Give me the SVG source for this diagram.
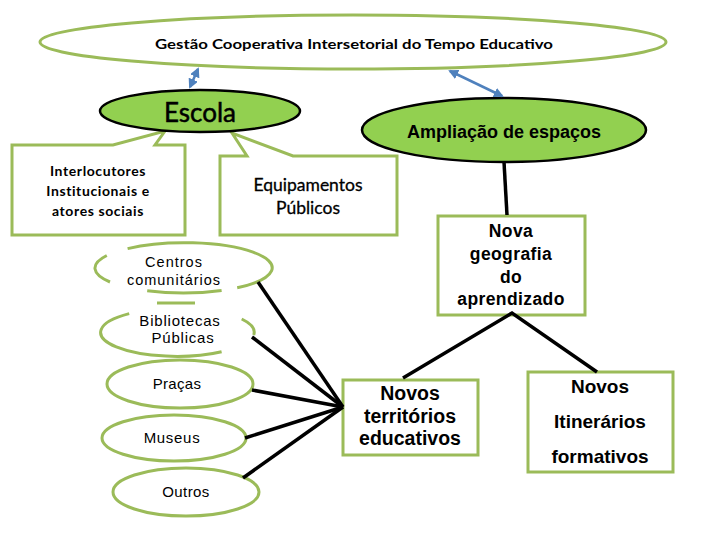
<svg xmlns="http://www.w3.org/2000/svg" width="720" height="540" viewBox="0 0 720 540">
<defs>
<marker id="ah" viewBox="0 0 10 10" refX="8" refY="5" markerWidth="4" markerHeight="4" orient="auto-start-reverse">
<path d="M0,0 L10,5 L0,10 z" fill="#4f81bd"/>
</marker>
<style>
.ol{fill:#fff;stroke:#9bbb59;stroke-width:3}
.olo{fill:none;stroke:#9bbb59;stroke-width:3}
.gr{fill:#92d050;stroke:#000;stroke-width:2.5}
.ln{stroke:#000;stroke-width:3.5;fill:none}
.bl{stroke:#4f81bd;stroke-width:2.5;fill:none;marker-start:url(#ah);marker-end:url(#ah)}
.cal{font-family:Lato,"Liberation Sans",sans-serif;fill:#000;text-anchor:middle}
.ar{font-family:"Liberation Sans",Arial,sans-serif;fill:#000;text-anchor:middle}
.b{font-weight:bold}
</style>
</defs>
<rect width="720" height="540" fill="#fff"/>

<g id="gestao">
<ellipse class="ol" cx="353" cy="42" rx="313" ry="27"/>
<text class="cal b" x="354" y="49" font-size="14" textLength="398" lengthAdjust="spacingAndGlyphs">Gestão Cooperativa Intersetorial do Tempo Educativo</text>
</g>

<g id="interlocutores">
<path class="ol" d="M12,145 L113,145 L165,131 L155,145 L185,145 L185,235 L12,235 Z"/>
<text class="cal b" font-size="14" letter-spacing="0.6"><tspan x="98" y="176">Interlocutores</tspan><tspan x="98" y="196">Institucionais e</tspan><tspan x="98" y="216">atores sociais</tspan></text>
</g>

<g id="equipamentos">
<path class="ol" d="M220,156 L247,156 L232,133 L293,156 L397,156 L397,235 L220,235 Z"/>
<text class="cal" font-size="17.5" stroke="#000" stroke-width="0.3"><tspan x="308" y="191">Equipamentos</tspan><tspan x="308" y="214">Públicos</tspan></text>
</g>

<g id="escola">
<ellipse class="gr" cx="200" cy="111" rx="100" ry="21"/>
<text class="cal" x="200" y="122" font-size="26" stroke="#000" stroke-width="0.5">Escola</text>
</g>

<g id="ampliacao">
<ellipse class="gr" cx="504" cy="130" rx="142" ry="32"/>
<text class="ar b" x="504" y="138" font-size="18">Ampliação de espaços</text>
</g>

<g id="nova">
<rect class="ol" x="438" y="216" width="147" height="99"/>
<text class="ar b" font-size="17.5" letter-spacing="0.4"><tspan x="511" y="237">Nova</tspan><tspan x="511" y="260">geografia</tspan><tspan x="511" y="283">do</tspan><tspan x="511" y="305">aprendizado</tspan></text>
</g>

<g id="territorios">
<rect class="ol" x="343" y="380" width="135" height="75"/>
<text class="ar b" font-size="19.5"><tspan x="410" y="400">Novos</tspan><tspan x="410" y="423">territórios</tspan><tspan x="410" y="445">educativos</tspan></text>
</g>

<g id="itinerarios">
<rect class="ol" x="528" y="372" width="145" height="100"/>
<text class="ar b" font-size="19"><tspan x="600" y="393">Novos</tspan><tspan x="600" y="428">Itinerários</tspan><tspan x="600" y="463">formativos</tspan></text>
</g>

<g id="centros">
<path class="olo" d="M221.6,290.5 A88,25 0 0 1 147.2,290.8 M110,282 A88,25 0 0 1 106.8,255.5 M127.6,248.6 A88,25 0 1 1 237.2,287.7"/>
<line class="olo" x1="157" y1="303" x2="195" y2="303" stroke-width="1.2"/>
<text class="ar" font-size="14.5" letter-spacing="1"><tspan x="174" y="267">Centros</tspan><tspan x="174" y="285">comunitários</tspan></text>
</g>

<g id="bibliotecas">
<path class="olo" d="M221.6,351.7 A76,24 0 0 1 129.2,313.6 M241.7,319 A76,24 0 0 1 253.7,334.9"/>
<text class="ar" font-size="15" letter-spacing="0.8"><tspan x="180" y="326">Bibliotecas</tspan><tspan x="183" y="343">Públicas</tspan></text>
</g>

<g id="pracas">
<ellipse class="ol" cx="180" cy="384" rx="73" ry="24"/>
<text class="ar" x="177" y="389" font-size="15" letter-spacing="0.3">Praças</text>
</g>

<g id="museus">
<ellipse class="ol" cx="174" cy="438" rx="72" ry="23"/>
<text class="ar" x="172" y="443" font-size="15" letter-spacing="0.7">Museus</text>
</g>

<g id="outros">
<ellipse class="ol" cx="186" cy="492" rx="73" ry="24"/>
<text class="ar" x="186" y="497" font-size="15" letter-spacing="0.4">Outros</text>
</g>

<g id="connectors">
<line class="bl" x1="190" y1="87" x2="198" y2="69"/>
<line class="bl" x1="450" y1="71" x2="502" y2="96"/>
<line class="ln" x1="504" y1="162" x2="507" y2="215"/>
<polyline class="ln" points="403,378 512,313 597,372"/>
<line class="ln" x1="258" y1="282" x2="343" y2="407"/>
<line class="ln" x1="252" y1="337" x2="343" y2="407"/>
<line class="ln" x1="252" y1="390" x2="343" y2="407"/>
<line class="ln" x1="245" y1="438" x2="343" y2="407"/>
<line class="ln" x1="243" y1="478" x2="343" y2="407"/>
</g>
</svg>
